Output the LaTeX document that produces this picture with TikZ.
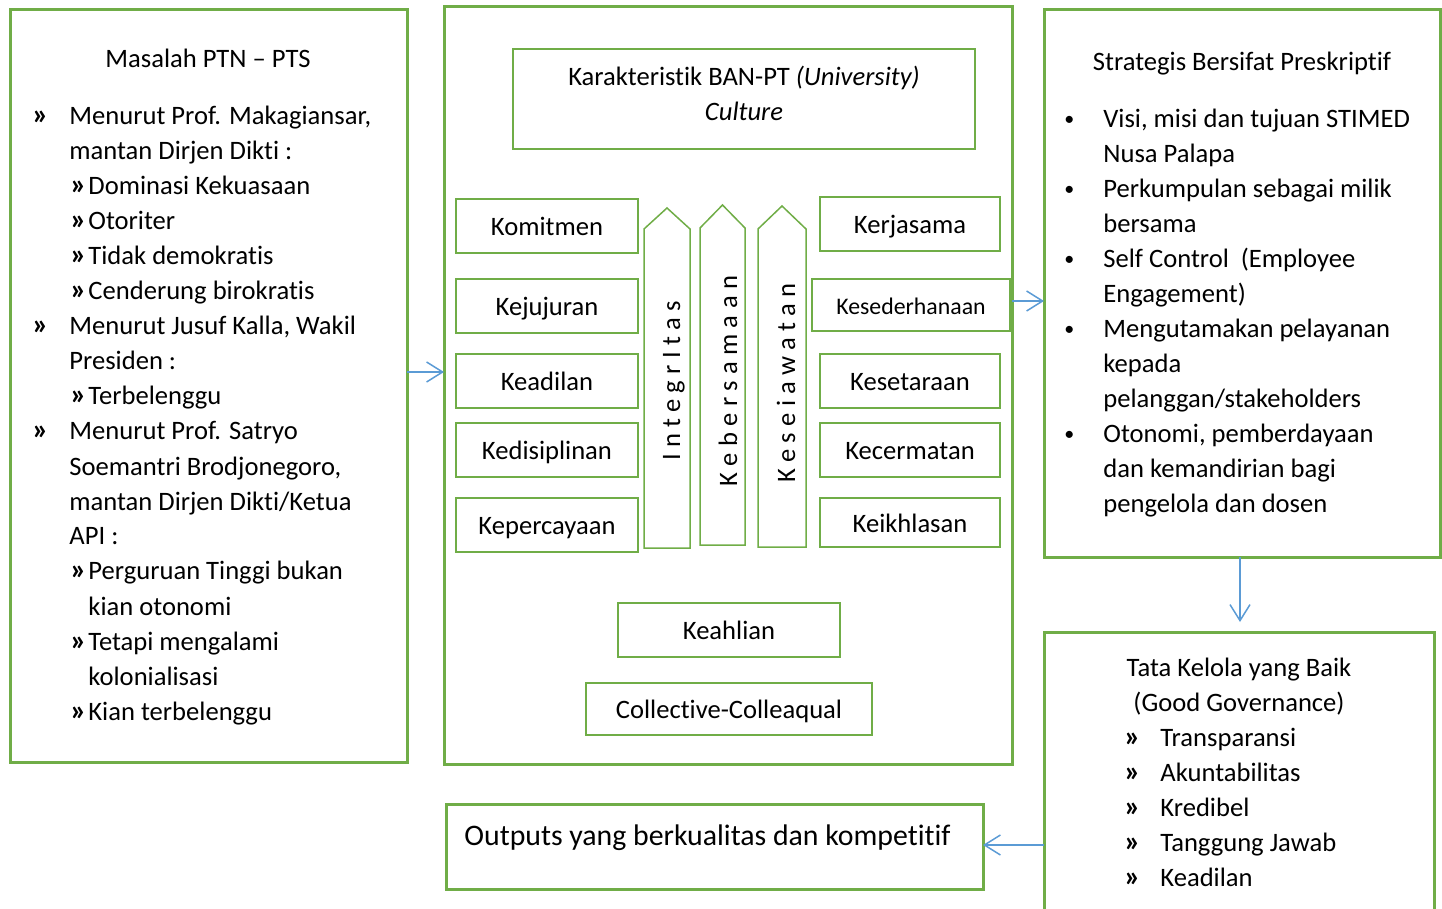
\documentclass[tikz,border=0pt]{standalone}
\usepackage{fontspec}
\setmainfont{Carlito}[Ligatures={TeX,NoCommon}]
\newfontfamily\spacedfont[LetterSpace=24,Ligatures=NoCommon]{Carlito}
\usetikzlibrary{arrows.meta}
\definecolor{boxgreen}{HTML}{70AD47}
\definecolor{arrowblue}{HTML}{5B9BD5}
\tikzset{
 outerbox/.style={draw=boxgreen, line width=1.5pt, inner sep=0pt, outer sep=0pt},
 innerbox/.style={draw=boxgreen, line width=0.75pt, inner sep=0pt, outer sep=0pt, font=\fontsize{13.3}{16}\selectfont, text height=10pt, text depth=0.5pt},
 conn/.style={draw=arrowblue, line width=0.75pt, -{Straight Barb[length=8pt,width=10pt,line width=0.75pt]}},
 txt/.style={inner sep=0pt, anchor=base west, font=\fontsize{13.3}{16}\selectfont},
 ctxt/.style={inner sep=0pt, anchor=base, font=\fontsize{13.3}{16}\selectfont},
 guil/.style={inner sep=0pt, anchor=base west, font=\fontsize{15}{16}\selectfont\bfseries},
 dot/.style={inner sep=0pt, anchor=base west, font=\fontsize{10}{12}\selectfont},
 pillar/.style={draw=boxgreen, line width=0.75pt, line join=miter},
 ptxt/.style={inner sep=0pt, anchor=base, rotate=90, font=\spacedfont\fontsize{13.3}{16}\selectfont},
}
\newcommand{\pxbox}[7]{\node[#6, minimum width={(#4-#2)*0.5pt}, minimum height={(#5-#3)*0.5pt}] (#1) at ({(#2+#4)/2},{(#3+#5)/2}) {#7};}
\begin{document}
\begin{tikzpicture}[x=0.5pt,y=-0.5pt]
\useasboundingbox (0,0) rectangle (1442,909);
% outer boxes
\pxbox{left}{10}{10}{407}{762}{outerbox}{}
\pxbox{mid}{444}{7}{1012}{764}{outerbox}{}
\pxbox{rtop}{1044}{10}{1440}{557}{outerbox}{}
\pxbox{rbot}{1044}{632}{1434}{980}{outerbox}{}
\pxbox{out}{446}{804}{983}{889}{outerbox}{}
% inner boxes
\pxbox{karak}{513}{49}{975}{149}{innerbox}{}
\pxbox{komit}{456}{199}{638}{253}{innerbox}{Komitmen}
\pxbox{keju}{456}{279}{638}{333}{innerbox}{Kejujuran}
\pxbox{keadil}{456}{354}{638}{408}{innerbox}{Keadilan}
\pxbox{kedis}{456}{423}{638}{477}{innerbox}{Kedisiplinan}
\pxbox{keperc}{456}{498}{638}{552}{innerbox}{Kepercayaan}
\pxbox{kerja}{820}{197}{1000}{251}{innerbox}{Kerjasama}
\pxbox{kesed}{812}{279}{1010}{331}{innerbox,font=\fontsize{11.9}{14}\selectfont}{Kesederhanaan}
\pxbox{keset}{820}{354}{1000}{408}{innerbox}{Kesetaraan}
\pxbox{kecer}{820}{423}{1000}{477}{innerbox}{Kecermatan}
\pxbox{keikh}{820}{498}{1000}{547}{innerbox}{Keikhlasan}
\pxbox{keahl}{618}{603}{840}{657}{innerbox}{Keahlian}
\pxbox{colle}{586}{683}{872}{735}{innerbox}{Collective-Colleaqual}
\node[ctxt] (karak1) at (744,86) {Karakteristik BAN-PT \textit{(University)}};
\node[ctxt] (karak2) at (744,121) {\textit{Culture}};
% pillars
\draw[pillar] (644,548) -- (644,229) -- (667,208) -- (690,229) -- (690,548) -- cycle;
\draw[pillar] (700,545) -- (700,228) -- (722.5,205) -- (745,228) -- (745,545) -- cycle;
\draw[pillar] (758,547) -- (758,229) -- (782,206) -- (806,229) -- (806,547) -- cycle;
\node[ptxt] (p1) at (680,381) {IntegrItas};
\node[ptxt] (p2) at (737,381) {Kebersamaan};
\node[ptxt] (p3) at (795,383) {Keseiawatan};
% left text
\node[ctxt] (ltitle) at (208,68) {Masalah PTN – PTS};
\node[guil] (lb0) at (32,125) {»}; \node[txt] (l0) at (69,125) {Menurut Prof. Makagiansar,};
\node[txt] (l1) at (69,160) {mantan Dirjen Dikti :};
\node[guil] (lb2) at (70,195) {»}; \node[txt] (l2) at (88,195) {Dominasi Kekuasaan};
\node[guil] (lb3) at (70,230) {»}; \node[txt] (l3) at (88,230) {Otoriter};
\node[guil] (lb4) at (70,265) {»}; \node[txt] (l4) at (88,265) {Tidak demokratis};
\node[guil] (lb5) at (70,300) {»}; \node[txt] (l5) at (88,300) {Cenderung birokratis};
\node[guil] (lb6) at (32,335) {»}; \node[txt] (l6) at (69,335) {Menurut Jusuf Kalla, Wakil};
\node[txt] (l7) at (69,370) {Presiden :};
\node[guil] (lb8) at (70,405) {»}; \node[txt] (l8) at (88,405) {Terbelenggu};
\node[guil] (lb9) at (32,440) {»}; \node[txt] (l9) at (69,440) {Menurut Prof. Satryo};
\node[txt] (l10) at (69,475) {Soemantri Brodjonegoro,};
\node[txt] (l11) at (69,510) {mantan Dirjen Dikti/Ketua};
\node[txt] (l12) at (69,545) {API :};
\node[guil] (lb13) at (70,580) {»}; \node[txt] (l13) at (88,580) {Perguruan Tinggi bukan};
\node[txt] (l14) at (88,615) {kian otonomi};
\node[guil] (lb15) at (70,650) {»}; \node[txt] (l15) at (88,650) {Tetapi mengalami};
\node[txt] (l16) at (88,685) {kolonialisasi};
\node[guil] (lb17) at (70,720) {»}; \node[txt] (l17) at (88,720) {Kian terbelenggu};
% right top text
\node[ctxt] (rtitle) at (1242,71) {Strategis Bersifat Preskriptif};
\node[dot] (rb0) at (1064,126) {•}; \node[txt] (r0) at (1103,128) {Visi, misi dan tujuan STIMED};
\node[txt] (r1) at (1103,163) {Nusa Palapa};
\node[dot] (rb2) at (1064,196) {•}; \node[txt] (r2) at (1103,198) {Perkumpulan sebagai milik};
\node[txt] (r3) at (1103,233) {bersama};
\node[dot] (rb4) at (1064,266) {•}; \node[txt] (r4) at (1103,268) {Self Control\ \ (Employee};
\node[txt] (r5) at (1103,303) {Engagement)};
\node[dot] (rb6) at (1064,336) {•}; \node[txt] (r6) at (1103,338) {Mengutamakan pelayanan};
\node[txt] (r7) at (1103,373) {kepada};
\node[txt] (r8) at (1103,408) {pelanggan/stakeholders};
\node[dot] (rb9) at (1064,441) {•}; \node[txt] (r9) at (1103,443) {Otonomi, pemberdayaan};
\node[txt] (r10) at (1103,478) {dan kemandirian bagi};
\node[txt] (r11) at (1103,513) {pengelola dan dosen};
% right bottom text
\node[ctxt] (gtitle1) at (1239,676) {Tata Kelola yang Baik};
\node[ctxt] (gtitle2) at (1239,711) {(Good Governance)};
\node[guil] (gb0) at (1124,746) {»}; \node[txt] (g0) at (1160,746) {Transparansi};
\node[guil] (gb1) at (1124,781) {»}; \node[txt] (g1) at (1160,781) {Akuntabilitas};
\node[guil] (gb2) at (1124,816) {»}; \node[txt] (g2) at (1160,816) {Kredibel};
\node[guil] (gb3) at (1124,851) {»}; \node[txt] (g3) at (1160,851) {Tanggung Jawab};
\node[guil] (gb4) at (1124,886) {»}; \node[txt] (g4) at (1160,886) {Keadilan};
% output text
\node[txt, font=\fontsize{14.9}{18}\selectfont] (outtxt) at (464,845) {Outputs yang berkualitas dan kompetitif};
% connectors
\coordinate (y1) at (0,372);
\coordinate (y2) at (0,301);
\coordinate (x3) at (1240,0);
\coordinate (e3) at (1240,622);
\coordinate (y4) at (0,845);
\draw[conn] (left.east |- y1) -- (mid.west |- y1);
\draw[conn] (mid.east |- y2) -- (rtop.west |- y2);
\draw[conn] (rtop.south -| x3) -- (e3);
\draw[conn] (rbot.west |- y4) -- (out.east |- y4);
\end{tikzpicture}
\end{document}
